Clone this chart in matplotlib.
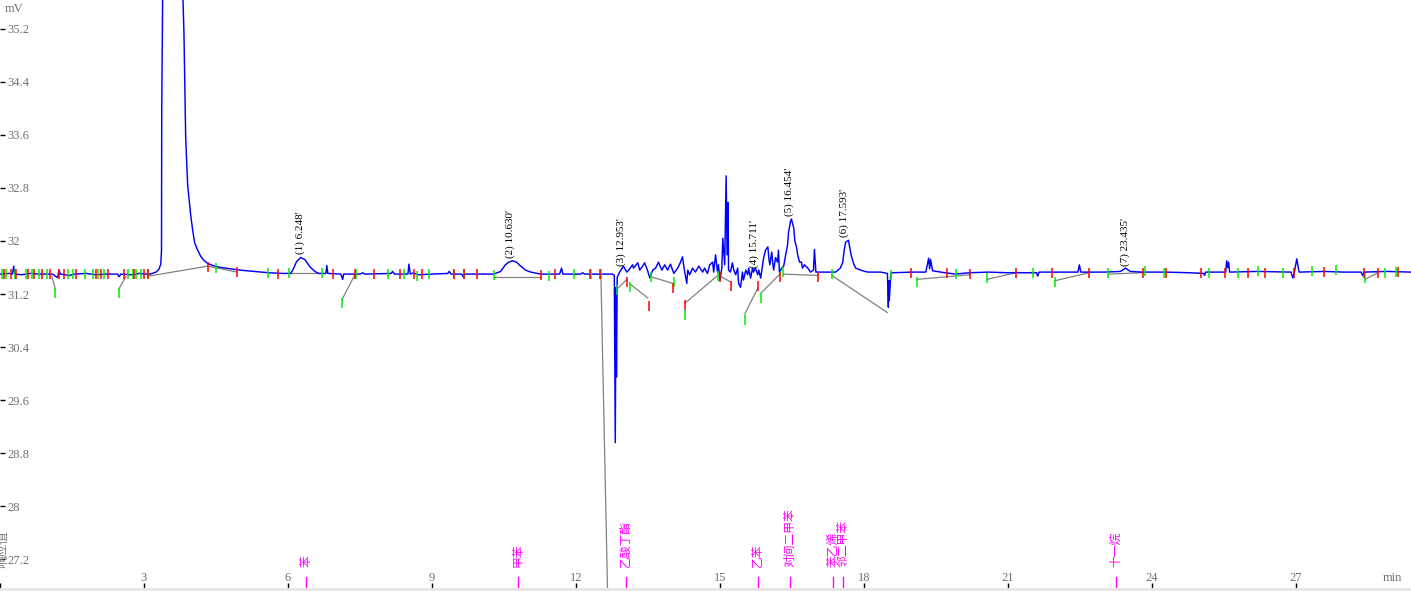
import matplotlib
matplotlib.use("Agg")
import matplotlib.pyplot as plt
from matplotlib.patches import Rectangle

plt.rcParams['font.family'] = ['Liberation Serif', 'Noto Sans CJK SC', 'DejaVu Sans']

# chromatogram trace (min, mV)
t_pre = [0.0, 0.20, 0.26, 0.285, 0.31, 0.45, 0.62, 0.80, 1.10, 1.17, 1.20, 1.23, 1.26,
         1.35, 1.45, 1.55, 1.80, 2.00, 2.20, 2.45, 2.48, 2.52, 2.75, 2.90, 3.05, 3.13,
         3.25, 3.31, 3.35, 3.365, 3.37, 3.39]
v_pre = [31.50, 31.51, 31.50, 31.62, 31.50, 31.49, 31.51, 31.50, 31.50, 31.46, 31.45, 31.56, 31.50,
         31.49, 31.48, 31.50, 31.51, 31.49, 31.50, 31.50, 31.46, 31.50, 31.49, 31.51, 31.50, 31.50,
         31.53, 31.57, 31.65, 31.86, 33.97, 35.8]

# solvent peak, top is off scale
t_solvent = [3.45, 3.55, 3.65, 3.75, 3.813, 3.833, 3.854, 3.869, 3.883, 3.896, 3.910, 3.931,
             3.952, 3.973, 4.015, 4.056, 4.119, 4.181, 4.244, 4.327, 4.431, 4.598, 4.806]
v_solvent = [42.0, 48.0, 46.0, 40.0, 35.63, 35.13, 34.16, 33.55, 33.30, 33.07, 32.84, 32.69,
             32.54, 32.39, 32.16, 31.97, 31.86, 31.77, 31.71, 31.66, 31.63, 31.60, 31.58]

t_mid = [5.0, 5.3, 5.6, 5.9, 6.06, 6.12, 6.18, 6.265, 6.35, 6.41, 6.47, 6.56, 6.64, 6.79, 6.81,
         6.83, 7.10, 7.14, 7.16, 7.50, 7.56, 7.60, 8.15, 8.18, 8.22, 8.50, 8.52, 8.55, 8.62,
         8.70, 9.00, 9.33, 9.36, 9.40, 9.62, 9.65, 9.68, 10.0, 10.29, 10.43, 10.53, 10.60,
         10.68, 10.76, 10.85, 10.95, 11.06, 11.26, 11.66, 11.70, 11.73, 12.10, 12.14, 12.18,
         12.76, 12.80]
v_mid = [31.56, 31.54, 31.52, 31.51, 31.51, 31.59, 31.69, 31.75, 31.72, 31.66, 31.60, 31.54, 31.51, 31.51, 31.63,
         31.51, 31.50, 31.42, 31.50, 31.50, 31.52, 31.50, 31.51, 31.54, 31.50, 31.50, 31.65, 31.50, 31.52,
         31.49, 31.50, 31.51, 31.54, 31.50, 31.50, 31.46, 31.50, 31.50, 31.50, 31.54, 31.64, 31.68,
         31.70, 31.68, 31.62, 31.56, 31.53, 31.50, 31.50, 31.59, 31.50, 31.50, 31.52, 31.50,
         31.50, 31.48]

# noisy part 12.8 - 18.6 min
t_noise = [12.82, 12.835, 12.845, 12.86, 12.91, 12.99, 13.06, 13.10, 13.18, 13.20, 13.29, 13.33,
           13.39, 13.43, 13.49, 13.54, 13.60, 13.66, 13.72, 13.79, 13.85, 13.91, 13.97, 14.04,
           14.12, 14.18, 14.22, 14.26, 14.31, 14.33, 14.37, 14.43, 14.49, 14.56, 14.64, 14.68,
           14.74, 14.79, 14.85, 14.87, 14.91, 14.95, 14.97, 15.00, 15.04, 15.06, 15.10, 15.13,
           15.15, 15.17, 15.18, 15.22, 15.26, 15.29, 15.33, 15.37, 15.39, 15.43, 15.47, 15.49,
           15.54, 15.58, 15.60, 15.64, 15.68, 15.70, 15.74, 15.79, 15.81, 15.85, 15.89, 15.91,
           15.95, 16.00, 16.02, 16.04, 16.08, 16.10, 16.12, 16.16, 16.20, 16.22, 16.24, 16.29,
           16.33, 16.37, 16.41, 16.43, 16.47, 16.49, 16.54, 16.56, 16.60, 16.62, 16.66, 16.70,
           16.72, 16.76, 16.83, 16.89, 16.95, 16.97, 17.00, 17.20, 17.41, 17.51, 17.56, 17.59,
           17.62, 17.68, 17.70, 17.74, 17.79, 17.83, 17.93, 18.08, 18.35, 18.49, 18.51, 18.52,
           18.53, 18.56]
v_noise = [28.96, 31.30, 29.95, 31.45, 31.53, 31.62, 31.53, 31.56, 31.64, 31.59, 31.67, 31.56,
           31.62, 31.67, 31.56, 31.44, 31.56, 31.59, 31.68, 31.56, 31.64, 31.56, 31.65, 31.51,
           31.59, 31.68, 31.76, 31.56, 31.36, 31.56, 31.49, 31.59, 31.53, 31.62, 31.53, 31.59,
           31.51, 31.64, 31.68, 31.53, 31.79, 31.53, 31.64, 31.41, 31.59, 32.04, 31.64, 32.98,
           31.79, 32.58, 31.56, 31.53, 31.67, 31.56, 31.49, 31.59, 31.36, 31.30, 31.53, 31.41,
           31.56, 31.49, 31.59, 31.44, 31.59, 31.53, 31.59, 31.49, 31.56, 31.44, 31.64, 31.74,
           31.86, 31.91, 31.74, 31.64, 31.83, 31.68, 31.56, 31.75, 31.68, 31.86, 31.53, 31.59,
           31.62, 31.79, 31.94, 32.13, 32.29, 32.33, 32.19, 32.01, 31.89, 31.79, 31.68, 31.68,
           31.59, 31.64, 31.59, 31.53, 31.56, 31.87, 31.53, 31.53, 31.53, 31.59, 31.68, 31.86,
           31.98, 32.01, 31.92, 31.77, 31.65, 31.59, 31.56, 31.53, 31.53, 31.51, 31.00, 31.40,
           31.10, 31.51]

t_tail = [18.60, 19.0, 19.29, 19.35, 19.37, 19.39, 19.43, 19.6, 19.9, 20.2, 20.6, 21.0, 21.60,
          21.62, 21.65, 22.0, 22.46, 22.49, 22.52, 23.0, 23.35, 23.45, 23.55, 23.8, 24.3, 24.8,
          25.08, 25.10, 25.12, 25.54, 25.56, 25.58, 25.60, 25.62, 26.2, 26.90, 26.94, 26.97,
          27.02, 27.05, 27.07, 27.6, 28.0, 28.36, 28.39, 28.42, 28.9, 29.4]
v_tail = [31.52, 31.53, 31.53, 31.74, 31.58, 31.72, 31.55, 31.53, 31.50, 31.52, 31.53, 31.52, 31.52,
          31.47, 31.53, 31.53, 31.53, 31.64, 31.53, 31.53, 31.54, 31.59, 31.54, 31.53, 31.53, 31.52,
          31.51, 31.48, 31.53, 31.53, 31.70, 31.60, 31.68, 31.53, 31.54, 31.53, 31.44, 31.53,
          31.73, 31.60, 31.53, 31.54, 31.53, 31.53, 31.48, 31.53, 31.54, 31.53]

# integration marks: peak start (green) and peak end (red), (min, mV)
start_marks = [(0.04, 31.50), (0.13, 31.50), (0.31, 31.50), (0.54, 31.50), (0.67, 31.50), (0.81, 31.50),
               (0.98, 31.50), (1.15, 31.22), (1.42, 31.50), (1.52, 31.50), (1.77, 31.50), (1.94, 31.50),
               (2.04, 31.50), (2.17, 31.50), (2.48, 31.22), (2.67, 31.50), (2.77, 31.50), (2.83, 31.50),
               (2.94, 31.50), (3.08, 31.50), (4.50, 31.59), (5.58, 31.51), (6.02, 31.51), (6.71, 31.51),
               (7.13, 31.06), (7.42, 31.50), (8.08, 31.50), (8.42, 31.50), (8.69, 31.47), (8.94, 31.50),
               (9.46, 31.50), (9.67, 31.50), (10.29, 31.48), (11.44, 31.47), (11.96, 31.50), (12.31, 31.50),
               (12.52, 31.50), (12.85, 31.26), (13.125, 31.31), (13.56, 31.46), (14.04, 31.38), (14.27, 30.88),
               (14.96, 31.47), (15.52, 30.81), (15.85, 31.14), (16.31, 31.53), (17.33, 31.50), (18.56, 31.49),
               (19.10, 31.38), (19.92, 31.50), (20.56, 31.44), (21.52, 31.52), (21.98, 31.38), (23.08, 31.51),
               (23.85, 31.55), (24.25, 31.52), (25.19, 31.52), (25.79, 31.52), (26.21, 31.54), (26.73, 31.52),
               (27.33, 31.55), (27.83, 31.56), (28.44, 31.44), (28.85, 31.52), (29.08, 31.53)]
end_marks = [(0.08, 31.50), (0.23, 31.50), (0.33, 31.50), (0.58, 31.50), (0.71, 31.50), (0.88, 31.50),
             (1.04, 31.50), (1.23, 31.50), (1.33, 31.50), (1.58, 31.50), (2.00, 31.50), (2.10, 31.50),
             (2.25, 31.50), (2.58, 31.50), (2.79, 31.50), (3.00, 31.50), (3.08, 31.50), (4.33, 31.60),
             (4.94, 31.53), (5.79, 31.50), (6.94, 31.50), (7.40, 31.50), (7.79, 31.50), (8.33, 31.50),
             (8.63, 31.50), (8.79, 31.50), (9.46, 31.50), (9.67, 31.50), (9.94, 31.50), (11.27, 31.48),
             (11.56, 31.50), (12.29, 31.50), (12.50, 31.50), (13.06, 31.38), (13.52, 31.02), (14.02, 31.29),
             (14.27, 31.03), (15.00, 31.46), (15.23, 31.32), (15.79, 31.32), (16.25, 31.46), (17.04, 31.46),
             (18.98, 31.52), (19.73, 31.52), (20.21, 31.50), (21.17, 31.52), (21.92, 31.52), (22.69, 31.52),
             (23.81, 31.52), (24.29, 31.52), (25.02, 31.52), (25.52, 31.52), (26.00, 31.52), (26.35, 31.52),
             (26.96, 31.52), (27.58, 31.53), (28.42, 31.52), (28.71, 31.52), (29.13, 31.53)]

# drawn baselines (t0, v0, t1, v1)
baselines = [(1.08, 31.47, 1.15, 31.28), (2.48, 31.28, 2.62, 31.46), (3.10, 31.47, 4.33, 31.62),
             (4.33, 31.62, 4.94, 31.53), (6.02, 31.51, 6.71, 31.51), (7.13, 31.12, 7.40, 31.50),
             (10.29, 31.45, 11.27, 31.45), (12.52, 31.50, 12.66, 26.70), (12.85, 31.27, 13.06, 31.42),
             (13.125, 31.35, 13.50, 31.14), (13.56, 31.46, 14.02, 31.36), (14.27, 31.06, 14.94, 31.47),
             (15.00, 31.47, 15.23, 31.38), (15.52, 30.90, 15.79, 31.29), (15.85, 31.21, 16.25, 31.50),
             (16.31, 31.50, 17.04, 31.48), (17.33, 31.48, 18.49, 30.92), (19.10, 31.42, 20.21, 31.49),
             (20.56, 31.42, 21.17, 31.52), (21.98, 31.40, 22.69, 31.52), (23.08, 31.50, 23.81, 31.52),
             (28.44, 31.42, 28.71, 31.52)]

# identified peaks
peak_no = [1, 2, 3, 4, 5, 6, 7]
peak_rt = [6.248, 10.630, 12.953, 15.711, 16.454, 17.593, 23.435]
peak_top = [31.75, 31.69, 31.57, 31.55, 32.33, 32.01, 31.58]

# compound names and expected retention times
comp_names = ['苯', '甲苯', '乙酸丁酯', '乙苯', '对间二甲苯', '苯乙烯', '邻二甲苯', '十一烷']
comp_rt = [6.37, 10.79, 13.04, 15.79, 16.46, 17.35, 17.56, 23.25]

x_ticks = [0, 3, 6, 9, 12, 15, 18, 21, 24, 27]
x_labels = ['', '3', '6', '9', '12', '15', '18', '21', '24', '27']
y_ticks = [27.2, 28, 28.8, 29.6, 30.4, 31.2, 32, 32.8, 33.6, 34.4, 35.2]
y_labels = ['27.2', '28', '28.8', '29.6', '30.4', '31.2', '32', '32.8', '33.6', '34.4', '35.2']

fig = plt.figure(figsize=(14.11, 5.91), dpi=100)
# plot area stops just above the grey strip at the bottom
ax = fig.add_axes([0, 3 / 591, 1, 588 / 591])
ax.set_xlim(0, 29.4)
ax.set_ylim(26.77, 35.63)
for s in ax.spines.values():
    s.set_visible(False)

# baselines under the trace
for t0, v0, t1, v1 in baselines:
    ax.plot([t0, t1], [v0, v1], color='#808080', lw=0.9, zorder=1)

t_all = t_pre + t_solvent + t_mid + t_noise + t_tail
v_all = v_pre + v_solvent + v_mid + v_noise + v_tail
ax.plot(t_all, v_all, color='#0000ff', lw=1.05, zorder=2)

# start / end marks
half = 0.075
ax.vlines([m[0] for m in start_marks], [m[1] - half for m in start_marks],
          [m[1] + half for m in start_marks], colors='#00ee00', lw=1.1, zorder=3)
ax.vlines([m[0] for m in end_marks], [m[1] - half for m in end_marks],
          [m[1] + half for m in end_marks], colors='#ff0000', lw=1.1, zorder=3)

# peak labels
for n, rt, top in zip(peak_no, peak_rt, peak_top):
    ax.annotate("(%d) %.3f'" % (n, rt), xy=(rt, top), xytext=(0, 3), textcoords='offset pixels',
                rotation=90, ha='center', va='bottom', fontsize=8,
                family='Liberation Serif', color='black')

# compound names at the bottom
trans = ax.get_xaxis_transform()
for name, rt in zip(comp_names, comp_rt):
    ax.text(rt, 0.036, name, transform=trans, rotation=90, ha='center', va='bottom',
            color='#ff00ff', fontsize=8.5, family=['Noto Sans CJK SC', 'DejaVu Sans'])
    ax.plot([rt, rt], [0.002, 0.019], transform=trans, color='#ff00ff', lw=1.0)

# axes ticks drawn inside
ax.set_xticks(x_ticks)
ax.set_xticklabels(x_labels)
ax.set_yticks(y_ticks)
ax.set_yticklabels(y_labels)
ax.tick_params(axis='x', direction='in', length=3.6, width=1, pad=-11.5,
               labelsize=9, labelcolor='#707070', color='black')
ax.tick_params(axis='y', direction='in', length=3.6, width=1, pad=-5,
               labelsize=9, labelcolor='#707070', color='black')
for lab in ax.get_yticklabels():
    lab.set_horizontalalignment('left')

ax.text(0.003, 0.98, 'mV', transform=ax.transAxes, ha='left', va='baseline',
        fontsize=9, color='#707070')
ax.text(0.9936, 0.012, 'min', transform=ax.transAxes, ha='right', va='baseline',
        fontsize=9, color='#707070')
fig.text(0.0015, 0.071, '响应值', rotation=90, ha='center', va='center',
         fontsize=9, color='#808080', family=['Noto Sans CJK SC', 'DejaVu Sans'])

# grey scroll bar strip at the bottom
fig.patches.append(Rectangle((0, 0), 1, 3 / 591, transform=fig.transFigure,
                             facecolor='#e6e6e6', edgecolor='none'))

fig.savefig('out.png', dpi=100)
